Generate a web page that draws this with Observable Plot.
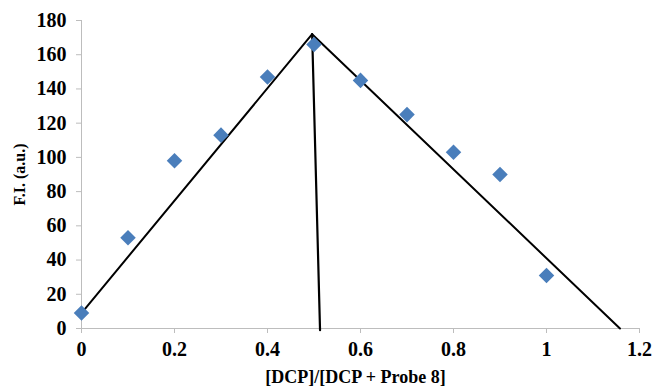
<!DOCTYPE html>
<html><head><meta charset="utf-8">
<script src="https://cdn.jsdelivr.net/npm/d3@7"></script>
<script src="https://cdn.jsdelivr.net/npm/@observablehq/plot@0.6"></script>
<style>
body{margin:0;background:#fff;}
#chart svg{font-family:"Liberation Serif","Times New Roman",serif;font-weight:bold;}
</style>
</head><body><div id="chart"></div>
<script>
const ratio = [0, 0.1, 0.2, 0.3, 0.4, 0.5, 0.6, 0.7, 0.8, 0.9, 1.0];
const fi = [9, 53, 98, 113, 147, 166, 145, 125, 103, 90, 31];
const fitLeftX = [0, 0.496];
const fitLeftY = [9, 172];
const fitRightX = [0.496, 1.158];
const fitRightY = [172, 0];
const fitVertX = [0.496, 0.513];
const fitVertY = [172, -1];
const xTicks = [0, 0.2, 0.4, 0.6, 0.8, 1, 1.2];
const yTicks = [0, 20, 40, 60, 80, 100, 120, 140, 160, 180];
const xLabel = "[DCP]/[DCP + Probe 8]";
const yLabel = "F.I. (a.u.)";

const pts = ratio.map((x, i) => ({x, y: fi[i]}));
const seg = (xs, ys) => xs.map((x, i) => ({x, y: ys[i]}));
const ff = '"Liberation Serif","Times New Roman",serif';

const chart = Plot.plot({
  width: 656, height: 390,
  marginLeft: 81, marginRight: 17, marginTop: 20, marginBottom: 62,
  style: {fontFamily: ff, fontWeight: "bold", fontSize: "18px", color: "#000", background: "#fff"},
  x: {domain: [0, 1.2]},
  y: {domain: [0, 180]},
  marks: [
    Plot.ruleX([0], {stroke: "#bdbdbd", strokeWidth: 1}),
    Plot.ruleY([0], {stroke: "#bdbdbd", strokeWidth: 1}),
    Plot.axisX({ticks: xTicks, tickFormat: d => String(d), tickSize: 5, tickPadding: 8, stroke: "#bdbdbd", fill: "#000", fontFamily: ff, fontSize: 20, fontWeight: "bold", label: null}),
    Plot.axisY({ticks: yTicks, tickFormat: d => String(d), tickSize: 5, tickPadding: 10, stroke: "#bdbdbd", fill: "#000", fontFamily: ff, fontSize: 20, fontWeight: "bold", label: null}),
    Plot.line(seg(fitLeftX, fitLeftY), {x: "x", y: "y", stroke: "#000", strokeWidth: 2, clip: false}),
    Plot.line(seg(fitRightX, fitRightY), {x: "x", y: "y", stroke: "#000", strokeWidth: 2, clip: false}),
    Plot.line(seg(fitVertX, fitVertY), {x: "x", y: "y", stroke: "#000", strokeWidth: 2.2, clip: false}),
    Plot.dot(pts, {x: "x", y: "y", symbol: "diamond2", r: 7, fill: "#4a7ebb", stroke: "none"}),
    Plot.text([xLabel], {frameAnchor: "bottom", dy: 54, dx: -5, fontFamily: ff, fontSize: 18, fontWeight: "bold", fill: "#000"}),
    Plot.text([yLabel], {frameAnchor: "left", textAnchor: "middle", dx: -62, rotate: -90, fontFamily: ff, fontSize: 16, fontWeight: "bold", fill: "#000"})
  ]
});
document.getElementById("chart").appendChild(chart);
</script>
</body></html>
